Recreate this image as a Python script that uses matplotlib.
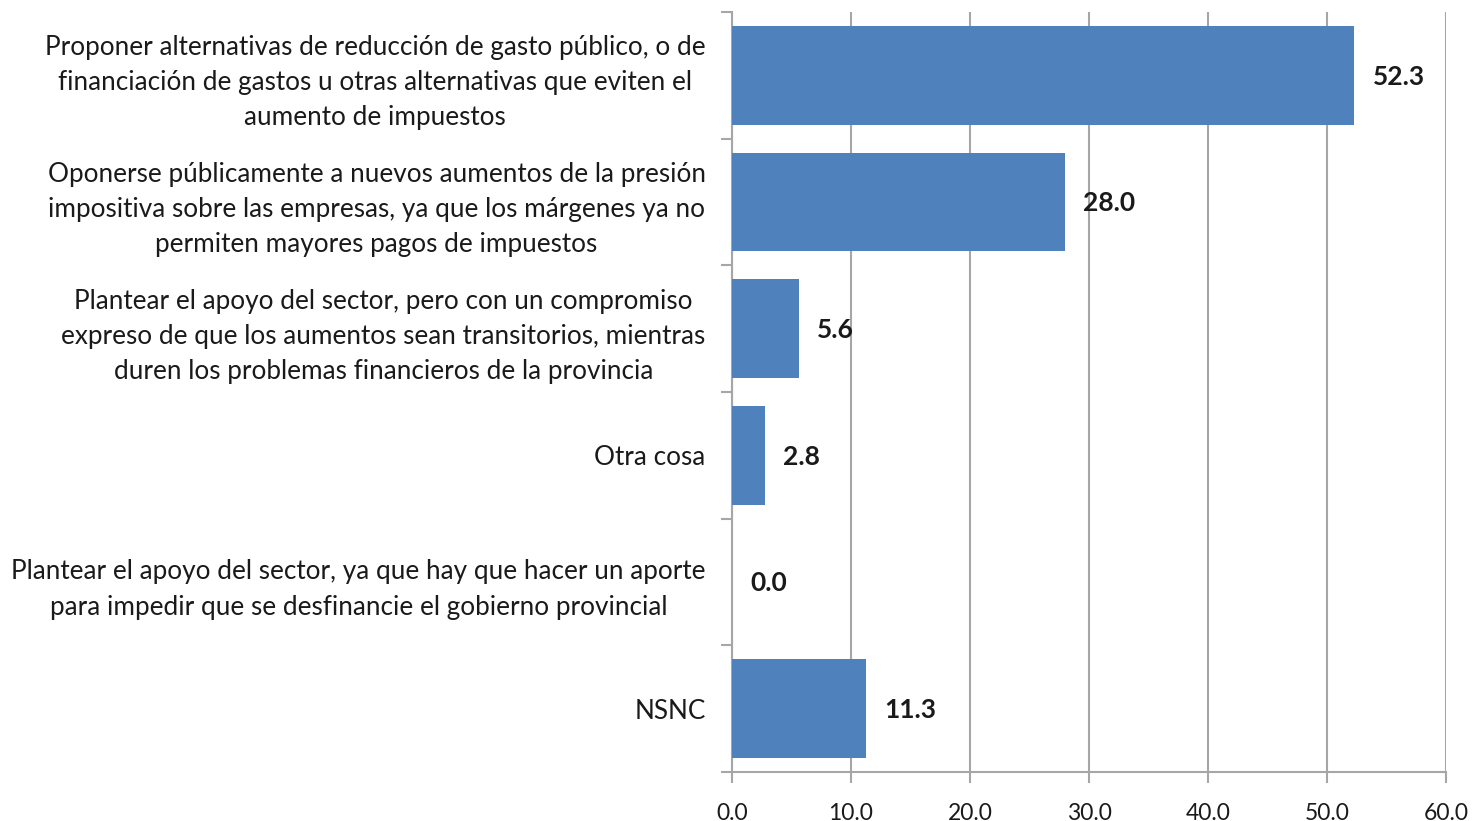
import matplotlib
matplotlib.use("Agg")
import matplotlib.pyplot as plt
from matplotlib.ticker import FixedLocator, FormatStrFormatter

categories = [
    "Proponer alternativas de reducción de gasto público, o de\nfinanciación de gastos u otras alternativas que eviten el\naumento de impuestos",
    "Oponerse públicamente a nuevos aumentos de la presión\nimpositiva sobre las empresas, ya que los márgenes ya no\npermiten mayores pagos de impuestos",
    "Plantear el apoyo del sector, pero con un compromiso\nexpreso de que los aumentos sean transitorios, mientras\nduren los problemas financieros de la provincia",
    "Otra cosa",
    "Plantear el apoyo del sector, ya que hay que hacer un aporte\npara impedir que se desfinancie el gobierno provincial",
    "NSNC",
]
values = [52.3, 28.0, 5.6, 2.8, 0.0, 11.3]
x_ticks = [0, 10, 20, 30, 40, 50, 60]

plt.rcParams['font.family'] = ['Lato', 'DejaVu Sans']

fig = plt.figure(figsize=(14.76, 8.21), dpi=100)
ax = fig.add_axes([732/1476, 1-772/821, (1446-732)/1476, (772-12)/821])

bar_color = "#4F81BD"
grid_color = "#A6A6A6"
ypos = list(range(len(categories)))
ax.barh(ypos, values, height=0.78, color=bar_color, zorder=3)

for y, v in zip(ypos, values):
    ax.annotate(f"{v:.1f}", xy=(v, y), xytext=(13, -1), textcoords="offset points",
                ha="left", va="center", fontsize=19, fontweight="bold", color="#1a1a1a", zorder=4)

ax.set_xlim(0, 60)
ax.set_ylim(5.5, -0.5)
ax.xaxis.set_major_locator(FixedLocator(x_ticks))
ax.xaxis.set_major_formatter(FormatStrFormatter("%.1f"))
ax.grid(axis="x", color=grid_color, linewidth=1.5, zorder=0)
ax.set_axisbelow(True)

ax.set_yticks(ypos)
ax.set_yticklabels(categories, fontsize=18.8, color="#1a1a1a", multialignment="center", linespacing=1.5)
ax.set_yticks([i - 0.5 for i in range(len(categories) + 1)], minor=True)
ax.tick_params(axis="y", which="major", length=0, pad=19)
ax.tick_params(axis="y", which="minor", length=8, width=1.5, color=grid_color)
ax.tick_params(axis="x", which="major", length=8, width=1.5, color=grid_color,
               labelsize=16.5, labelcolor="#1a1a1a", pad=14)

for s in ["top", "right"]:
    ax.spines[s].set_visible(False)
for s in ["left", "bottom"]:
    ax.spines[s].set_color(grid_color)
    ax.spines[s].set_linewidth(1.5)

fig.savefig("out.png", dpi=100, facecolor="white")
